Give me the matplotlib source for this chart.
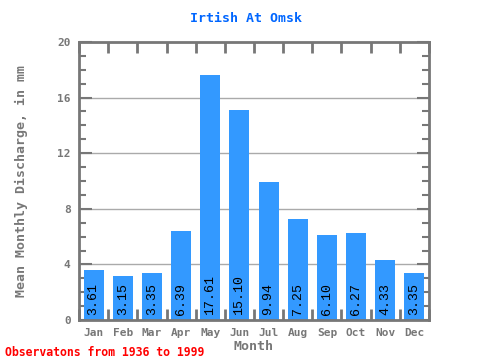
import matplotlib
matplotlib.use("Agg")
import matplotlib.pyplot as plt
import numpy as np
from matplotlib.ticker import MultipleLocator, FixedLocator

months = ["Jan", "Feb", "Mar", "Apr", "May", "Jun", "Jul", "Aug", "Sep", "Oct", "Nov", "Dec"]
values = [3.61, 3.15, 3.35, 6.39, 17.61, 15.10, 9.94, 7.25, 6.10, 6.27, 4.33, 3.35]
yticks = [0, 4, 8, 12, 16, 20]

gray = "#777777"
mono = ["DejaVu Sans Mono"]

fig = plt.figure(figsize=(4.8, 3.6), dpi=100)
ax = fig.add_axes([79/480, 1 - 320/360, 350/480, 278/360])

x = np.arange(len(months))
ax.bar(x, values, width=0.69, color="#3399ff", zorder=2)
for xi, v in zip(x, values):
    ax.text(xi, 0.35, f"{v:.2f}", rotation=90, ha="center", va="bottom",
            family=["Liberation Mono"], fontsize=9.5, color="black", zorder=3)

ax.set_xlim(-0.5, 11.5)
ax.set_ylim(0, 20)
ax.set_xticks(x)
ax.set_xticklabels(months)
ax.set_yticks(yticks)
ax.set_yticklabels([str(t) for t in yticks])
ax.yaxis.set_minor_locator(MultipleLocator(1))
ax.xaxis.set_minor_locator(FixedLocator(np.arange(-0.5, 12, 1.0)))

for y in yticks[1:-1]:
    ax.axhline(y, color="#aaaaaa", lw=1, zorder=1)

for s in ax.spines.values():
    s.set_color(gray)
    s.set_linewidth(2)

ax.tick_params(axis="x", which="major", length=0, pad=6, labelsize=8, labelcolor=gray)
ax.tick_params(axis="x", which="minor", direction="in", length=8, width=2, color=gray,
               top=True, bottom=True)
ax.tick_params(axis="y", which="major", direction="in", length=9, width=1.5, color=gray,
               labelsize=8, labelcolor=gray, left=True, right=True, pad=6)
ax.tick_params(axis="y", which="minor", direction="in", length=5, width=1.5, color=gray,
               left=True, right=True)
for lab in ax.get_xticklabels() + ax.get_yticklabels():
    lab.set_family(mono)
    lab.set_fontweight("bold")

ax.set_xlabel("Month", family=mono, fontsize=9.5, fontweight="bold", color=gray, labelpad=1)
ax.set_ylabel("Mean Monthly Discharge, in mm", family=mono, fontsize=9.5,
              fontweight="bold", color=gray, labelpad=21)

fig.text(246/480, 1 - 18/360, "Irtish At Omsk", ha="center", va="center",
         family=mono, fontsize=9.5, fontweight="bold", color="#0066ff")
fig.text(5/480, 1 - 352/360, "Observatons from 1936 to 1999", ha="left", va="center",
         family=mono, fontsize=8.3, fontweight="bold", color="red")

fig.savefig("out.png", dpi=100)
